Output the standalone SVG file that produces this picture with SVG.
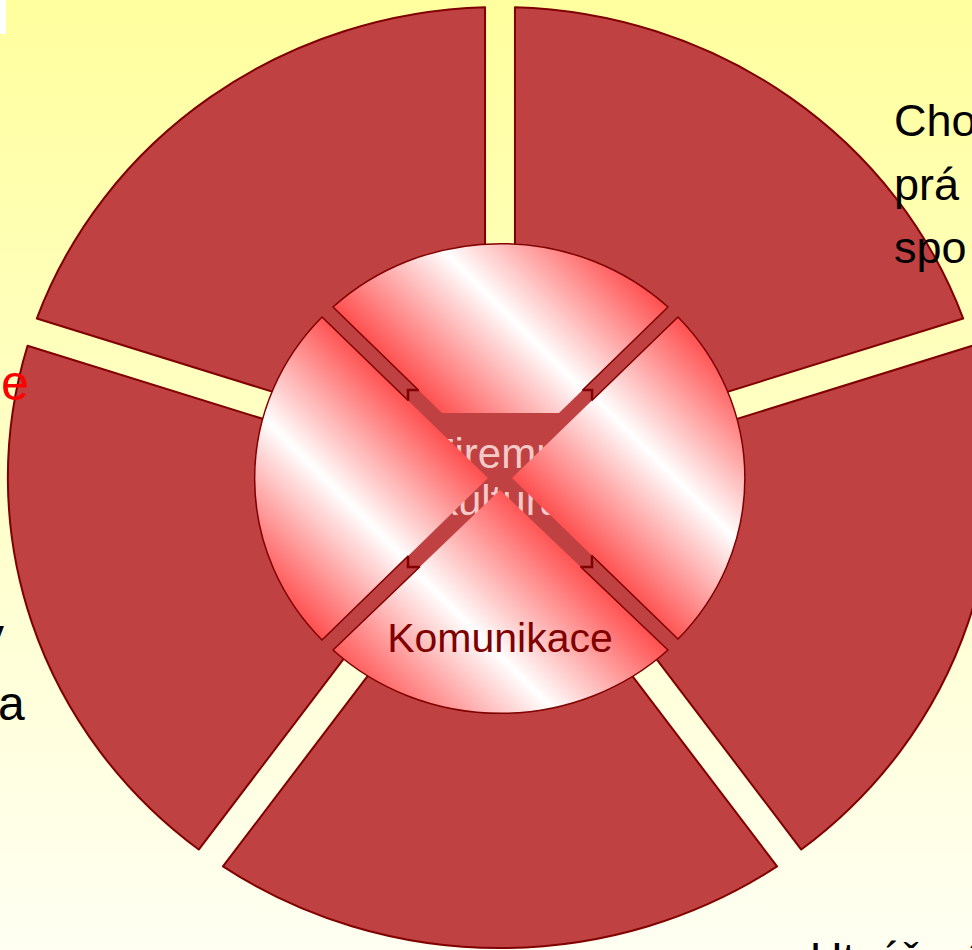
<svg xmlns="http://www.w3.org/2000/svg" width="972" height="950" viewBox="0 0 972 950">
<defs>
<linearGradient id="bg" x1="0" y1="0" x2="0" y2="1">
<stop offset="0" stop-color="#FFFF9E"/>
<stop offset="1" stop-color="#FFFFF2"/>
</linearGradient>
<linearGradient id="gTop" gradientUnits="userSpaceOnUse" x1="416.5" y1="390.5" x2="583.5" y2="223.5">
<stop offset="0" stop-color="#FF4F4F"/><stop offset="0.5" stop-color="#FFFFFF"/><stop offset="1" stop-color="#FF4F4F"/>
</linearGradient>
<linearGradient id="gLeft" gradientUnits="userSpaceOnUse" x1="289" y1="607" x2="453" y2="443">
<stop offset="0" stop-color="#FF4F4F"/><stop offset="0.5" stop-color="#FFFFFF"/><stop offset="1" stop-color="#FF4F4F"/>
</linearGradient>
<linearGradient id="gRight" gradientUnits="userSpaceOnUse" x1="538" y1="504" x2="702" y2="341">
<stop offset="0" stop-color="#FF4F4F"/><stop offset="0.5" stop-color="#FFFFFF"/><stop offset="1" stop-color="#FF4F4F"/>
</linearGradient>
<linearGradient id="gBottom" gradientUnits="userSpaceOnUse" x1="363" y1="693" x2="537" y2="519">
<stop offset="0" stop-color="#FF4F4F"/><stop offset="0.5" stop-color="#FFFFFF"/><stop offset="1" stop-color="#FF4F4F"/>
</linearGradient>
<mask id="outsideBox" maskUnits="userSpaceOnUse" x="0" y="0" width="972" height="950">
<rect x="0" y="0" width="972" height="950" fill="#fff"/>
<rect x="408" y="390" width="184" height="177" fill="#000"/>
</mask>
<style>
.seg{fill:#BF4141;stroke:#800000;stroke-width:2;stroke-linejoin:round}
.piece{stroke:none}
.edge{fill:none;stroke:#800000;stroke-width:1.5;stroke-linejoin:round}
.txt{font-family:"Liberation Sans",Arial,sans-serif}
.big{font-size:45px;fill:#000}
</style>
</defs>
<rect x="0" y="0" width="972" height="950" fill="url(#bg)"/>
<rect x="0" y="0" width="6" height="34" fill="#FFFFFF"/>

<g id="outer-ring">
<g id="seg-top-right"><path class="seg" d="M514.96 7.22 A492.1 470.5 0 0 1 963.21 318.57 L514.96 457.82 Z"/></g>
<g id="seg-right"><path class="seg" d="M972.46 345.77 A492.1 470.5 0 0 1 801.25 849.56 L524.2 485.02 Z"/></g>
<g id="seg-bottom"><path class="seg" d="M777.04 866.38 A492.1 470.5 0 0 1 222.96 866.38 L500 501.83 Z"/></g>
<g id="seg-left"><path class="seg" d="M198.75 849.56 A492.1 470.5 0 0 1 27.54 345.77 L475.8 485.02 Z"/></g>
<g id="seg-top-left"><path class="seg" d="M36.79 318.57 A492.1 470.5 0 0 1 485.04 7.22 L485.04 457.82 Z"/></g>
</g>

<ellipse cx="500" cy="477.5" rx="243" ry="232" fill="#BF4141"/>

<g id="center">
<rect x="408" y="390" width="184" height="177" fill="#BF4141" stroke="#800000" stroke-width="2.5"/>
<text class="txt" x="500" y="468" font-size="42" fill="#F6C9C9" text-anchor="middle">Firemní</text>
<text class="txt" x="500" y="515" font-size="42" fill="#F6C9C9" text-anchor="middle">kultura</text>
</g>

<g id="piece-top">
<path class="piece" fill="url(#gTop)" d="M333 307 A245 234.5 0 0 1 668 307 L559 413 L442 413 Z"/>
<path class="edge" mask="url(#outsideBox)" d="M333 307 A245 234.5 0 0 1 668 307 L559 413 L442 413 Z"/>
</g>
<g id="piece-right">
<path class="piece" fill="url(#gRight)" d="M678 317 A245 234.5 0 0 1 678 639 L512 478 Z"/>
<path class="edge" mask="url(#outsideBox)" d="M678 317 A245 234.5 0 0 1 678 639 L512 478 Z"/>
</g>
<g id="piece-left">
<path class="piece" fill="url(#gLeft)" d="M322 640 A245 234.5 0 0 1 322 317 L488 478 Z"/>
<path class="edge" mask="url(#outsideBox)" d="M322 640 A245 234.5 0 0 1 322 317 L488 478 Z"/>
</g>
<g id="piece-bottom">
<path class="piece" fill="url(#gBottom)" d="M668 650 A245 234.5 0 0 1 333 650 L500 490 Z"/>
<path class="edge" mask="url(#outsideBox)" d="M668 650 A245 234.5 0 0 1 333 650 L500 490 Z"/>
<text class="txt" x="500" y="652" font-size="41" fill="#800000" text-anchor="middle">Komunikace</text>
</g>

<g id="side-texts">
<text class="txt big" x="894" y="136">Cho</text>
<text class="txt big" x="894" y="200">prá</text>
<text class="txt big" x="894" y="263">spo</text>
<text class="txt" x="1" y="400" font-size="50" fill="#FF0000">e</text>
<text class="txt" x="-20" y="652" font-size="48" fill="#000">y</text>
<text class="txt" x="-2" y="720" font-size="48" fill="#000">a</text>
<text class="txt big" x="810" y="974">Utváření</text>
</g>
</svg>
